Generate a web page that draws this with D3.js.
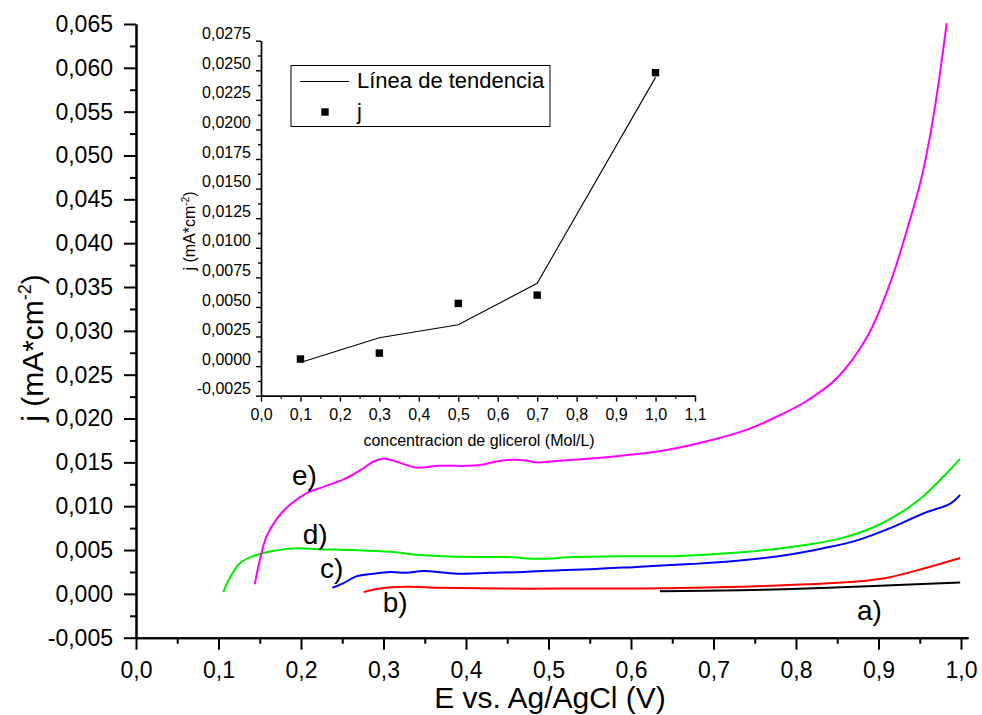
<!DOCTYPE html>
<html>
<head>
<meta charset="utf-8">
<script src="https://cdn.jsdelivr.net/npm/d3@7"></script>
<style>
  html, body { margin: 0; padding: 0; background: #fff; }
  svg { display: block; font-family: "Liberation Sans", Arial, sans-serif; }
</style>
</head>
<body>
<svg id="chart" width="982" height="715"></svg>
<script>
// ---- Voltammograms: potential (V) and current density (mA/cm^2) ----
const curveNames = ["a)", "b)", "c)", "d)", "e)"];
const curveColors = ["#000000", "#ff0000", "#0000ff", "#00ee00", "#ff00ff"];

const aE = [0.635, 0.732, 0.813, 0.894, 0.999];
const aJ = [0.0003, 0.0004, 0.0006, 0.0009, 0.0013];

const bE = [0.276, 0.296, 0.328, 0.368, 0.449, 0.514, 0.611, 0.732, 0.813, 0.874, 0.914, 0.955, 0.999];
const bJ = [0.0002, 0.0006, 0.0008, 0.0007, 0.0006, 0.0006, 0.0006, 0.0008, 0.0011, 0.0014, 0.0019, 0.0029, 0.0041];

const cE = [0.238, 0.251, 0.267, 0.288, 0.308, 0.328, 0.348, 0.389, 0.429, 0.470, 0.514, 0.550, 0.611, 0.672, 0.732, 0.793, 0.833, 0.874, 0.914, 0.955, 0.987, 0.999];
const cJ = [0.0007, 0.0012, 0.0020, 0.0023, 0.0025, 0.0024, 0.0026, 0.0023, 0.0024, 0.0025, 0.0027, 0.0028, 0.0031, 0.0034, 0.0038, 0.0045, 0.0052, 0.0061, 0.0075, 0.0092, 0.0103, 0.0113];

const dE = [0.1058, 0.114, 0.126, 0.142, 0.166, 0.195, 0.223, 0.263, 0.308, 0.348, 0.409, 0.449, 0.490, 0.530, 0.591, 0.652, 0.712, 0.773, 0.813, 0.853, 0.894, 0.926, 0.954, 0.978, 0.999];
const dJ = [0.0002, 0.0019, 0.0035, 0.0043, 0.0049, 0.0052, 0.0051, 0.0050, 0.0048, 0.0044, 0.0042, 0.0042, 0.0040, 0.0042, 0.0043, 0.0043, 0.0046, 0.0051, 0.0056, 0.0063, 0.0076, 0.0092, 0.0111, 0.0133, 0.0154];

const eE = [0.144, 0.150, 0.158, 0.171, 0.187, 0.207, 0.227, 0.255, 0.275, 0.288, 0.300, 0.312, 0.328, 0.340, 0.368, 0.401, 0.417, 0.437, 0.457, 0.473, 0.486, 0.502, 0.530, 0.583, 0.643, 0.692, 0.740, 0.781, 0.813, 0.8485, 0.8861, 0.9139, 0.9358, 0.9515, 0.9630, 0.9721, 0.9827];
const eJ = [0.0011, 0.0038, 0.0065, 0.0086, 0.0102, 0.0115, 0.0122, 0.0132, 0.0143, 0.0151, 0.0154, 0.0152, 0.0147, 0.0144, 0.0146, 0.0146, 0.0147, 0.0151, 0.0153, 0.0152, 0.0150, 0.0151, 0.0153, 0.0157, 0.0164, 0.0174, 0.0187, 0.0204, 0.0220, 0.0245, 0.0293, 0.0354, 0.0419, 0.0472, 0.0525, 0.0578, 0.0651];

// where each curve's letter sits (E, j)
const labelE = [0.874, 0.299, 0.223, 0.202, 0.189];
const labelJ = [-0.0030, -0.0021, 0.0018, 0.0057, 0.0124];

const mainXTicks = [0, 0.1, 0.2, 0.3, 0.4, 0.5, 0.6, 0.7, 0.8, 0.9, 1.0];
const mainYTicks = [-0.005, 0, 0.005, 0.010, 0.015, 0.020, 0.025, 0.030, 0.035, 0.040, 0.045, 0.050, 0.055, 0.060, 0.065];

// ---- Inset: current density vs glycerol concentration ----
const conc = [0.1, 0.3, 0.5, 0.7, 1.0];
const jPoints = [0.0006, 0.0011, 0.0053, 0.0060, 0.0248];
const jTrend = [0.0003, 0.0024, 0.0035, 0.0070, 0.0244];
const insetXTicks = [0, 0.1, 0.2, 0.3, 0.4, 0.5, 0.6, 0.7, 0.8, 0.9, 1.0, 1.1];
const insetYTicks = [-0.0025, 0, 0.0025, 0.0050, 0.0075, 0.0100, 0.0125, 0.0150, 0.0175, 0.0200, 0.0225, 0.0250, 0.0275];
const legendLabels = ["Línea de tendencia", "j"];

const curves = [[aE, aJ], [bE, bJ], [cE, cJ], [dE, dJ], [eE, eJ]];

const loc = d3.formatLocale({ decimal: ",", thousands: ".", grouping: [3], currency: ["", ""], minus: "-" });
const f1 = loc.format(".1f"), f3 = loc.format(".3f"), f4 = loc.format(".4f");

const svg = d3.select("#chart");
svg.append("rect").attr("width", 982).attr("height", 715).attr("fill", "#fff");

// ---------- main plot ----------
const x = d3.scaleLinear().domain([0, 1.0085]).range([136, 968]);
const y = d3.scaleLinear().domain([-0.005, 0.065]).range([637.7, 24]);

function midpoints(arr) {
  const out = [];
  for (let i = 0; i < arr.length - 1; i++) out.push((arr[i] + arr[i + 1]) / 2);
  return out;
}

function styleAxis(g, w) {
  g.select(".domain").attr("stroke", "#000").attr("stroke-width", w);
  g.selectAll(".tick line").attr("stroke", "#000").attr("stroke-width", w);
}

const gx = svg.append("g").attr("transform", "translate(0,637.7)");
gx.call(d3.axisBottom(x).tickValues(midpoints(mainXTicks)).tickSize(6).tickSizeOuter(0).tickFormat(""));
styleAxis(gx, 2);
const gx2 = svg.append("g").attr("transform", "translate(0,637.7)");
gx2.call(d3.axisBottom(x).tickValues(mainXTicks).tickSize(12).tickSizeOuter(0).tickPadding(12).tickFormat(f1));
styleAxis(gx2, 2);
gx2.selectAll("text").attr("font-size", 23).attr("fill", "#000").attr("font-family", "Liberation Sans, Arial, sans-serif");

const gy = svg.append("g").attr("transform", "translate(136,0)");
gy.call(d3.axisLeft(y).tickValues(midpoints(mainYTicks)).tickSize(6).tickSizeOuter(0).tickFormat(""));
styleAxis(gy, 2);
const gy2 = svg.append("g").attr("transform", "translate(136,0)");
gy2.call(d3.axisLeft(y).tickValues(mainYTicks).tickSize(12).tickSizeOuter(0).tickPadding(11).tickFormat(f3));
styleAxis(gy2, 2);
gy2.selectAll("text").attr("font-size", 23).attr("fill", "#000").attr("font-family", "Liberation Sans, Arial, sans-serif");

svg.append("text")
  .attr("x", 550).attr("y", 708)
  .attr("text-anchor", "middle").attr("font-size", 30)
  .text("E vs. Ag/AgCl (V)");

const yTitle = svg.append("text")
  .attr("transform", "translate(43,348) rotate(-90)")
  .attr("text-anchor", "middle").attr("font-size", 30);
yTitle.append("tspan").text("j (mA*cm");
yTitle.append("tspan").attr("font-size", 18).attr("dy", -12).text("-2");
yTitle.append("tspan").attr("dy", 12).text(")");

// smooth traces through the sampled points
const line = d3.line().x(d => x(d[0])).y(d => y(d[1])).curve(d3.curveCatmullRom.alpha(0.5));
curves.forEach((c, i) => {
  const pts = c[0].map((e, k) => [e, c[1][k]]);
  svg.append("path").datum(pts)
    .attr("d", line).attr("fill", "none")
    .attr("stroke", curveColors[i]).attr("stroke-width", 2)
    .attr("stroke-linejoin", "round");
});

curveNames.forEach((n, i) => {
  svg.append("text")
    .attr("x", x(labelE[i])).attr("y", y(labelJ[i]))
    .attr("font-size", 28).attr("fill", "#000").text(n);
});

// ---------- inset ----------
const ix = d3.scaleLinear().domain([0, 1.1]).range([261, 695]);
const iy = d3.scaleLinear().domain([-0.0025, 0.0275]).range([395.7, 40.7]);

const ixMinor = midpoints(insetXTicks);
const iyMinor = midpoints(insetYTicks);

const igx = svg.append("g").attr("transform", "translate(0,395.7)");
igx.call(d3.axisBottom(ix).tickValues(ixMinor).tickSize(3).tickSizeOuter(0).tickFormat(""));
styleAxis(igx, 1.4);
const igx2 = svg.append("g").attr("transform", "translate(0,395.7)");
igx2.call(d3.axisBottom(ix).tickValues(insetXTicks).tickSize(6).tickSizeOuter(0).tickPadding(7).tickFormat(f1));
styleAxis(igx2, 1.4);
igx2.selectAll("text").attr("font-size", 16).attr("fill", "#000").attr("font-family", "Liberation Sans, Arial, sans-serif");

const igy = svg.append("g").attr("transform", "translate(261,0)");
igy.call(d3.axisLeft(iy).tickValues(iyMinor).tickSize(3).tickSizeOuter(0).tickFormat(""));
styleAxis(igy, 1.4);
const igy2 = svg.append("g").attr("transform", "translate(261,0)");
igy2.call(d3.axisLeft(iy).tickValues(insetYTicks).tickSize(5).tickSizeOuter(0).tickPadding(5).tickFormat(f4));
styleAxis(igy2, 1.4);
igy2.selectAll("text").attr("font-size", 16).attr("fill", "#000").attr("y", -7)
  .attr("font-family", "Liberation Sans, Arial, sans-serif");

svg.append("text")
  .attr("x", 479).attr("y", 446)
  .attr("text-anchor", "middle").attr("font-size", 16)
  .text("concentracion de glicerol (Mol/L)");

const iyTitle = svg.append("text")
  .attr("transform", "translate(195,231) rotate(-90)")
  .attr("text-anchor", "middle").attr("font-size", 16);
iyTitle.append("tspan").text("j (mA*cm");
iyTitle.append("tspan").attr("font-size", 10).attr("dy", -6).text("-2");
iyTitle.append("tspan").attr("dy", 6).text(")");

const trendPts = conc.map((c, k) => [c, jTrend[k]]);
svg.append("path").datum(trendPts)
  .attr("d", d3.line().x(d => ix(d[0])).y(d => iy(d[1])))
  .attr("fill", "none").attr("stroke", "#000").attr("stroke-width", 1.1);

svg.selectAll("rect.pt").data(conc.map((c, k) => [c, jPoints[k]])).enter()
  .append("rect").attr("class", "pt")
  .attr("x", d => ix(d[0]) - 3.7).attr("y", d => iy(d[1]) - 3.7)
  .attr("width", 7.4).attr("height", 7.4).attr("fill", "#000");

// legend
const leg = svg.append("g");
leg.append("rect").attr("x", 291).attr("y", 65.5).attr("width", 259).attr("height", 61)
  .attr("fill", "#fff").attr("stroke", "#000").attr("stroke-width", 1);
leg.append("line").attr("x1", 300).attr("x2", 349).attr("y1", 81.5).attr("y2", 81.5)
  .attr("stroke", "#000").attr("stroke-width", 1.1);
leg.append("rect").attr("x", 321.3).attr("y", 108.3).attr("width", 7.4).attr("height", 7.4).attr("fill", "#000");
leg.append("text").attr("x", 357).attr("y", 88).attr("font-size", 22).text(legendLabels[0]);
leg.append("text").attr("x", 357).attr("y", 119).attr("font-size", 22).text(legendLabels[1]);
</script>
</body>
</html>
